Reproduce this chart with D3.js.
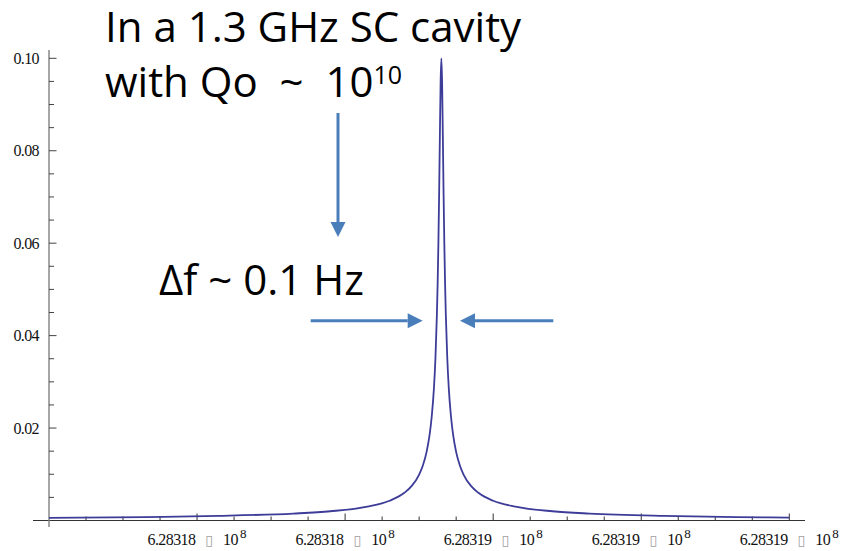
<!DOCTYPE html>
<html>
<head>
<meta charset="utf-8">
<script src="https://cdn.jsdelivr.net/npm/d3@7/dist/d3.min.js"></script>
<style>
  html, body { margin: 0; padding: 0; background: #fff; }
  svg { display: block; }
</style>
</head>
<body>
<svg id="chart" width="842" height="551"></svg>
<script>
// Resonance curve of a high-Q cavity: response vs. angular frequency
const freq = [
  628318000, 628318130, 628318230, 628318330, 628318380, 628318430,
  628318460, 628318480, 628318490, 628318500, 628318505, 628318510,
  628318514, 628318517, 628318520, 628318522, 628318524, 628318525,
  628318526, 628318527, 628318528, 628318529, 628318530, 628318531,
  628318532, 628318533, 628318534, 628318535, 628318536, 628318538,
  628318540, 628318543, 628318546, 628318550, 628318555, 628318560,
  628318570, 628318580, 628318600, 628318630, 628318680, 628318730,
  628318830, 628318930, 628319000
];
const response = [
  0.00057, 0.00075, 0.00100, 0.00150, 0.00200, 0.00300,
  0.00428, 0.00599, 0.00748, 0.00995, 0.0119, 0.0148,
  0.0184, 0.0225, 0.0287, 0.0351, 0.0447, 0.0514,
  0.0600, 0.0707, 0.0832, 0.0949, 0.1000, 0.0949,
  0.0832, 0.0707, 0.0600, 0.0514, 0.0447, 0.0351,
  0.0287, 0.0225, 0.0184, 0.0148, 0.0119, 0.00995,
  0.00748, 0.00599, 0.00428, 0.00300, 0.00200, 0.00150,
  0.00100, 0.00075, 0.00064
];

const xMajorTicks = [628318200, 628318400, 628318600, 628318800, 628319000];
const xTickLabels = ["6.28318", "6.28318", "6.28319", "6.28319", "6.28319"];
const xMinorStep = 50;
const yMajorTicks = [0.02, 0.04, 0.06, 0.08, 0.10];
const yMinorStep = 0.005;

const titleLines = ["In a 1.3 GHz SC cavity", "with Qo  ~  10"];
const titleExponent = "10";
const widthNote = "\u0394f ~ 0.1 Hz";

const svg = d3.select("#chart");

const x = d3.scaleLinear().domain([628318000, 628319000]).range([49, 789.3]);
const y = d3.scaleLinear().domain([0, 0.1]).range([520.5, 58.3]);

const serif = "'Liberation Serif', 'Times New Roman', serif";

// ---- axes ----
const axisG = svg.append("g");

// x axis line (extends a bit past the frame on both sides)
axisG.append("line")
  .attr("x1", 33).attr("x2", 805)
  .attr("y1", y(0)).attr("y2", y(0))
  .attr("stroke", "#333").attr("stroke-width", 1.2);

// y axis line
axisG.append("line")
  .attr("x1", x.range()[0]).attr("x2", x.range()[0])
  .attr("y1", 50).attr("y2", 527)
  .attr("stroke", "#808080").attr("stroke-width", 1.4);

// x minor ticks
const xMinor = d3.range(628318000 + xMinorStep, 628319000 + 1, xMinorStep)
  .filter(v => !xMajorTicks.includes(v));
axisG.selectAll(".xminor").data(xMinor).enter().append("line")
  .attr("x1", d => x(d)).attr("x2", d => x(d))
  .attr("y1", y(0)).attr("y2", y(0) - 4)
  .attr("stroke", "#333").attr("stroke-width", 1);

axisG.selectAll(".xmajor").data(xMajorTicks).enter().append("line")
  .attr("x1", d => x(d)).attr("x2", d => x(d))
  .attr("y1", y(0)).attr("y2", y(0) - 7)
  .attr("stroke", "#333").attr("stroke-width", 1);

// y minor ticks
const yMinor = d3.range(1, 20).map(i => +(i * yMinorStep).toFixed(3))
  .filter(v => !yMajorTicks.some(m => Math.abs(m - v) < 1e-9));
axisG.selectAll(".yminor").data(yMinor).enter().append("line")
  .attr("x1", x.range()[0]).attr("x2", x.range()[0] + 5)
  .attr("y1", d => y(d)).attr("y2", d => y(d))
  .attr("stroke", "#444").attr("stroke-width", 1);

axisG.selectAll(".ymajor").data(yMajorTicks).enter().append("line")
  .attr("x1", x.range()[0]).attr("x2", x.range()[0] + 7.5)
  .attr("y1", d => y(d)).attr("y2", d => y(d))
  .attr("stroke", "#444").attr("stroke-width", 1);

// y tick labels
axisG.selectAll(".ylab").data(yMajorTicks).enter().append("text")
  .attr("x", 39).attr("y", d => y(d))
  .attr("dy", "0.35em")
  .attr("text-anchor", "end")
  .attr("font-family", serif).attr("font-size", 16)
  .attr("letter-spacing", "-0.6px")
  .attr("fill", "#111")
  .text(d3.format(".2f"));

// x tick labels: mantissa, (unrendered) times sign, 10^8
const xl = axisG.selectAll(".xlab").data(xMajorTicks).enter().append("text")
  .attr("x", d => x(d)).attr("y", 545)
  .attr("text-anchor", "middle")
  .attr("font-family", serif).attr("font-size", 16)
  .attr("fill", "#111");
xl.append("tspan").attr("letter-spacing", "-0.6px").text((d, i) => xTickLabels[i]);
xl.append("tspan").attr("dx", 10).attr("font-family", "'DejaVu Sans', sans-serif")
  .attr("font-size", 14).attr("fill", "#a0a0a0").text("\u25AF");
xl.append("tspan").attr("dx", 10).attr("letter-spacing", "-0.5px").text("10");
xl.append("tspan").attr("dx", 2).attr("dy", -7).attr("font-size", 13).text("8");

// ---- curve ----
const pts = freq.map((f, i) => [f, response[i]]);
svg.append("path")
  .datum(pts)
  .attr("d", d3.line().x(d => x(d[0])).y(d => y(d[1])).curve(d3.curveMonotoneX))
  .attr("fill", "none")
  .attr("stroke", "#3d3d99")
  .attr("stroke-width", 1.8)
  .attr("stroke-linejoin", "round");

// ---- annotations ----
const sans = "'Open Sans', Lato, sans-serif";
svg.append("text")
  .attr("x", 105).attr("y", 41.7)
  .attr("font-family", sans).attr("font-size", 42)
  .attr("fill", "#000")
  .text(titleLines[0]);

const t2 = svg.append("text")
  .attr("x", 105).attr("y", 96.7)
  .attr("font-family", sans).attr("font-size", 42)
  .attr("fill", "#000")
  .attr("xml:space", "preserve")
  .style("white-space", "pre");
t2.append("tspan").text(titleLines[1]);
t2.append("tspan").attr("dy", -13).attr("font-size", 25).text(titleExponent);

svg.append("text")
  .attr("x", 159).attr("y", 295)
  .attr("font-family", sans).attr("font-size", 42)
  .attr("fill", "#000")
  .text(widthNote);

const arrowColor = "#4a7ebb";
function arrow(x1, y1, x2, y2) {
  const ang = Math.atan2(y2 - y1, x2 - x1);
  const headLen = 15, headHalf = 7.5;
  const bx = x2 - headLen * Math.cos(ang), by = y2 - headLen * Math.sin(ang);
  svg.append("line")
    .attr("x1", x1).attr("y1", y1).attr("x2", bx).attr("y2", by)
    .attr("stroke", arrowColor).attr("stroke-width", 3);
  const px = -Math.sin(ang) * headHalf, py = Math.cos(ang) * headHalf;
  svg.append("path")
    .attr("d", `M${x2},${y2}L${bx + px},${by + py}L${bx - px},${by - py}Z`)
    .attr("fill", arrowColor);
}
arrow(338, 113, 338, 237);
arrow(310.7, 320.7, 422.7, 320.7);
arrow(553.3, 320.7, 460, 320.7);
</script>
</body>
</html>
